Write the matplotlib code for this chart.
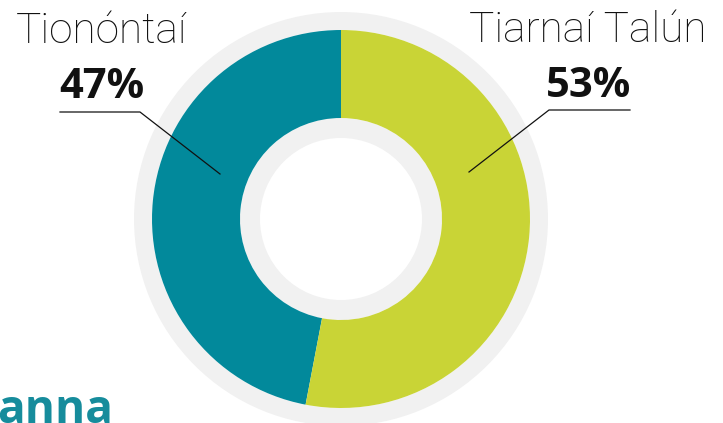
import matplotlib
matplotlib.use('Agg')
import matplotlib.pyplot as plt

categories = ['Tionóntaí', 'Tiarnaí Talún']
shares = [47, 53]
share_labels = ['47%', '53%']
colors = ['#02899b', '#c9d436']
ring_grey = '#f1f1f1'
title_tail = 'anna'

W, H = 723, 423
cx, cy = 341, H - 219

fig = plt.figure(figsize=(W / 100, H / 100), dpi=100)
ax = fig.add_axes([0, 0, 1, 1])

# outer and inner grey rings
ax.pie([1], colors=[ring_grey], radius=207, center=(cx, cy),
       wedgeprops=dict(width=18, linewidth=0), frame=True)
ax.pie([1], colors=[ring_grey], radius=101, center=(cx, cy),
       wedgeprops=dict(width=20, linewidth=0), frame=True)

# main donut
ax.pie(shares, colors=colors, radius=189, center=(cx, cy), startangle=90,
       counterclock=True, wedgeprops=dict(width=88, linewidth=0), frame=True)
ax.set_xlim(0, W)
ax.set_ylim(0, H)
ax.set_aspect('equal')
ax.axis('off')

light = dict(family=['Roboto', 'DejaVu Sans'], weight='light')
bold = dict(family=['Open Sans', 'DejaVu Sans'], weight='bold')

# label positions (pixel coords from top)
name_pos = [(101, 43), (588, 42)]
pct_pos = [(102, 98), (589, 97)]
leaders = [[(60, 112), (140, 112), (220, 174)],
           [(630, 110), (549, 110), (469, 172)]]

for name, pct, (nx, ny), (px, py), pts in zip(categories, share_labels,
                                              name_pos, pct_pos, leaders):
    ax.text(nx, H - ny, name, ha='center', va='baseline', fontsize=30.5,
            color='#111111', **light)
    ax.text(px, H - py, pct, ha='center', va='baseline', fontsize=30,
            color='#111111', **bold)
    xs = [p[0] for p in pts]
    ys = [H - p[1] for p in pts]
    ax.plot(xs, ys, color='#111111', linewidth=0.9)

ax.text(-3, H - 423, title_tail, ha='left', va='baseline', fontsize=33,
        color='#168c9c', **bold)

fig.savefig('out.png', dpi=100)
